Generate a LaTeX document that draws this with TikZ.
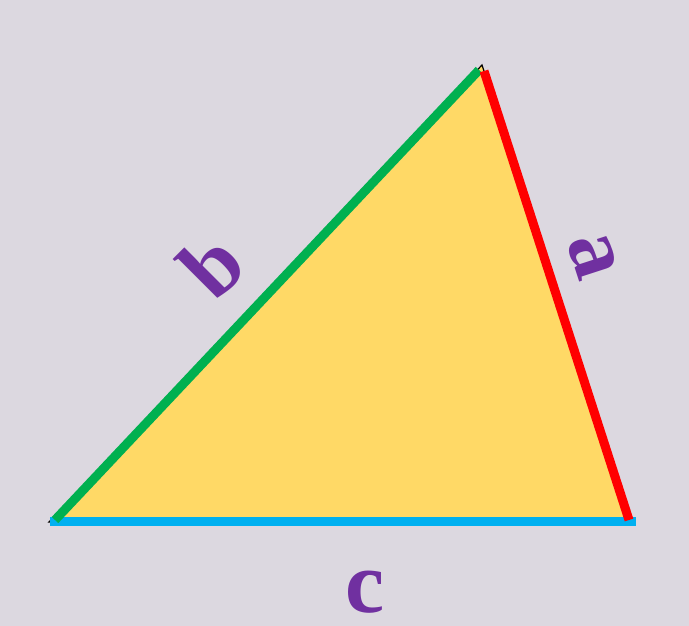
\documentclass[tikz,border=0pt]{standalone}
\usepackage{fontspec}
\setmainfont{Liberation Serif}
\definecolor{bgc}{HTML}{DCD8E0}
\definecolor{fillc}{HTML}{FFD966}
\definecolor{gline}{HTML}{00B050}
\definecolor{rline}{HTML}{FF0000}
\definecolor{cline}{HTML}{00B0F0}
\definecolor{lab}{HTML}{7030A0}
\begin{document}
\begin{tikzpicture}[x=1pt,y=-1pt,
  edge/.style={line width=9pt,line cap=butt},
  lbl/.style={text=lab,font=\fontsize{88}{88}\selectfont\bfseries,inner sep=0pt}]
\fill[bgc] (0,0) rectangle (689,626);
\useasboundingbox (0,0) rectangle (689,626);
\coordinate (A) at (49,522);
\coordinate (B) at (482,65);
\coordinate (C) at (633,522);
\filldraw[fill=fillc,draw=black,line width=1.2pt] (A) -- (B) -- (C) -- cycle;
\coordinate (c1) at (50,521);
\coordinate (c2) at (636,521);
\coordinate (g1) at (55,520);
\coordinate (g2) at (479,70);
\coordinate (r1) at (484,71);
\coordinate (r2) at (629,520);
\draw[edge,cline] (c1) -- (c2);
\draw[edge,gline] (g1) -- (g2);
\draw[edge,rline] (r1) -- (r2);
\node[lbl,rotate=45] (lb) at (212,265) {b};
\node[lbl,rotate=-72] (la) at (593,256) {a};
\node[lbl] (lc) at (365,592) {c};
\end{tikzpicture}
\end{document}
